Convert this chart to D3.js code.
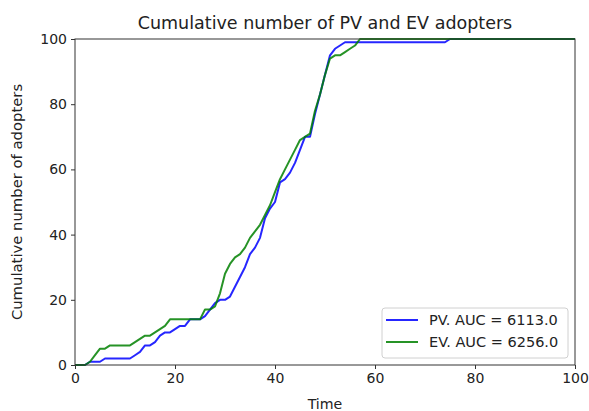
<!DOCTYPE html>
<html>
<head>
<meta charset="utf-8">
<script src="https://cdn.jsdelivr.net/npm/d3@7"></script>
<style>
  body { margin: 0; background: #fff; }
  text { font-family: "DejaVu Sans", sans-serif; fill: #222; }
</style>
</head>
<body>
<div id="chart"></div>
<script>
(function() {
  var width = 589,
    height = 411;

  var margin = { top: 39, right: 14, bottom: 46, left: 75 };

  // time steps 0..100
  var time = d3.range(0, 101);

  // cumulative PV adopters
  var pvValues = [
    0, 0, 0, 1, 1, 1, 2, 2, 2, 2, 2,
    2, 3, 4, 6, 6, 7, 9, 10, 10, 11,
    12, 12, 14, 14, 14, 15, 17, 19, 20, 20,
    21, 24, 27, 30, 34, 36, 39, 45, 48, 50,
    56, 57, 59, 62, 66, 70, 70, 77, 83, 89,
    95, 97, 98, 99, 99, 99, 99, 99, 99, 99,
    99, 99, 99, 99, 99, 99, 99, 99, 99, 99,
    99, 99, 99, 99, 100, 100, 100, 100, 100, 100,
    100, 100, 100, 100, 100, 100, 100, 100, 100, 100,
    100, 100, 100, 100, 100, 100, 100, 100, 100, 100
  ];

  // cumulative EV adopters
  var evValues = [
    0, 0, 0, 1, 3, 5, 5, 6, 6, 6, 6,
    6, 7, 8, 9, 9, 10, 11, 12, 14, 14,
    14, 14, 14, 14, 14, 17, 17, 18, 22, 28,
    31, 33, 34, 36, 39, 41, 43, 46, 49, 53,
    57, 60, 63, 66, 69, 70, 71, 78, 83, 89,
    94, 95, 95, 96, 97, 98, 100, 100, 100, 100,
    100, 100, 100, 100, 100, 100, 100, 100, 100, 100,
    100, 100, 100, 100, 100, 100, 100, 100, 100, 100,
    100, 100, 100, 100, 100, 100, 100, 100, 100, 100,
    100, 100, 100, 100, 100, 100, 100, 100, 100, 100
  ];

  var seriesNames = ["PV. AUC = 6113.0", "EV. AUC = 6256.0"];
  var seriesColors = ["#0000ff", "#008000"];
  var xTicks = [0, 20, 40, 60, 80, 100];
  var yTicks = [0, 20, 40, 60, 80, 100];

  var svg = d3.select("#chart")
    .append("svg")
    .attr("width", width)
    .attr("height", height);

  var plotW = width - margin.left - margin.right,
    plotH = height - margin.top - margin.bottom;

  var x = d3.scaleLinear().domain([0, 100]).range([margin.left, margin.left + plotW]);
  var y = d3.scaleLinear().domain([0, 100]).range([margin.top + plotH, margin.top]);

  var clip = svg.append("defs").append("clipPath").attr("id", "plot-clip")
  clip.append("rect")
    .attr("x", margin.left)
    .attr("y", margin.top - 1)
    .attr("width", plotW)
    .attr("height", plotH + 2)

  var line = d3.line()
    .x(function(d) { return x(d[0]); })
    .y(function(d) { return y(d[1]); });

  var series = [pvValues, evValues].map(function(vals) {
    return time.map(function(t, i) { return [t, vals[i]]; });
  });

  svg.append("g")
    .attr("clip-path", "url(#plot-clip)")
    .selectAll("path")
    .data(series)
    .enter().append("path")
    .attr("d", line)
    .attr("fill", "none")
    .attr("stroke", function(d, i) { return seriesColors[i]; })
    .attr("stroke-width", 2)
    .attr("stroke-opacity", 0.85)
    .attr("stroke-linejoin", "round");

  // axes
  var xAxis = svg.append("g")
    .attr("transform", "translate(0," + (margin.top + plotH) + ")")
    .call(d3.axisBottom(x).tickValues(xTicks).tickSize(4).tickPadding(4));

  var yAxis = svg.append("g")
    .attr("transform", "translate(" + margin.left + ",0)")
    .call(d3.axisLeft(y).tickValues(yTicks).tickSize(4).tickPadding(4));

  [xAxis, yAxis].forEach(function(ax) {
    ax.select(".domain").remove();
    ax.selectAll("line").attr("stroke", "#333");
    ax.selectAll("text")
      .attr("font-size", 14)
      .attr("font-family", "DejaVu Sans, sans-serif")
      .attr("fill", "#222");
  });

  // frame
  svg.append("rect")
    .attr("x", margin.left)
    .attr("y", margin.top)
    .attr("width", plotW)
    .attr("height", plotH)
    .attr("fill", "none")
    .attr("stroke", "#333")
    .attr("stroke-width", 1);

  svg.append("text")
    .attr("x", margin.left + plotW / 2)
    .attr("y", 29)
    .attr("text-anchor", "middle")
    .attr("font-size", 17.5)
    .text("Cumulative number of PV and EV adopters");

  svg.append("text")
    .attr("x", margin.left + plotW / 2)
    .attr("y", 409)
    .attr("text-anchor", "middle")
    .attr("font-size", 14.2)
    .text("Time");

  svg.append("text")
    .attr("transform", "translate(22," + (margin.top + plotH / 2) + ") rotate(-90)")
    .attr("text-anchor", "middle")
    .attr("font-size", 14.8)
    .text("Cumulative number of adopters");

  // legend
  var legend = svg.append("g").attr("transform", "translate(382,308)");
  legend.append("rect")
    .attr("width", 186)
    .attr("height", 50)
    .attr("rx", 3)
    .attr("fill", "#fff")
    .attr("fill-opacity", 0.8)
    .attr("stroke", "#d0d0d0");

  var items = legend.selectAll(".item")
    .data(seriesNames)
    .enter().append("g")
    .attr("class", "item")
    .attr("transform", function(d, i) { return "translate(0," + (12 + i * 22) + ")"; });

  items.append("line")
    .attr("x1", 4).attr("x2", 36)
    .attr("stroke", function(d, i) { return seriesColors[i]; })
    .attr("stroke-width", 2)
    .attr("stroke-opacity", 0.85);

  items.append("text")
    .attr("x", 47)
    .attr("dy", "0.35em")
    .attr("font-size", 14.5)
    .text(function(d) { return d; });
})();
</script>
</body>
</html>
